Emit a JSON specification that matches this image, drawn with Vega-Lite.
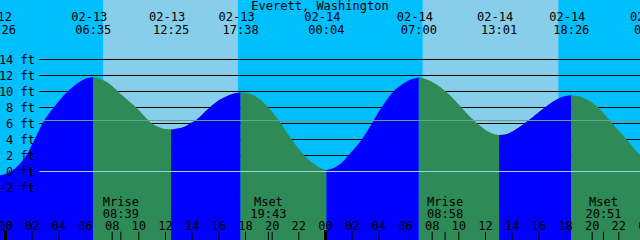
{
 "$schema": "https://vega.github.io/schema/vega-lite/v6.json",
 "width": 640, "height": 240,
 "autosize": {"type": "none"},
 "padding": 0,
 "background": "#00BFFF",
 "config": {"view": {"stroke": null}, "axis": {"disable": true}, "legend": {"disable": true},
   "text": {"font": "DejaVu Sans Mono", "fontSize": 12, "color": "#000000", "baseline": "middle"}},
 "datasets": {
  "day": [{"start": 7.317, "end": 17.433}, {"start": 31.283, "end": 41.467}],
  "tide": [
   {"t": -0.5625, "ft": -0.5, "seg": 0, "phase": "rise"},
   {"t": 0.0, "ft": -0.3, "seg": 0, "phase": "rise"},
   {"t": 0.49, "ft": 0.1, "seg": 0, "phase": "rise"},
   {"t": 1.09, "ft": 1.0, "seg": 0, "phase": "rise"},
   {"t": 1.59, "ft": 2.1, "seg": 0, "phase": "rise"},
   {"t": 2.15, "ft": 3.9, "seg": 0, "phase": "rise"},
   {"t": 2.835, "ft": 6.2, "seg": 0, "phase": "rise"},
   {"t": 3.615, "ft": 8.0, "seg": 0, "phase": "rise"},
   {"t": 4.65, "ft": 10.0, "seg": 0, "phase": "rise"},
   {"t": 5.46, "ft": 11.1, "seg": 0, "phase": "rise"},
   {"t": 6.0, "ft": 11.6, "seg": 0, "phase": "rise"},
   {"t": 6.583, "ft": 11.8, "seg": 0, "phase": "rise"},
   {"t": 6.583, "ft": 11.8, "seg": 1, "phase": "fall"},
   {"t": 7.34, "ft": 11.4, "seg": 1, "phase": "fall"},
   {"t": 7.84, "ft": 10.9, "seg": 1, "phase": "fall"},
   {"t": 8.44, "ft": 10.0, "seg": 1, "phase": "fall"},
   {"t": 9.11, "ft": 9.0, "seg": 1, "phase": "fall"},
   {"t": 9.86, "ft": 7.9, "seg": 1, "phase": "fall"},
   {"t": 10.59, "ft": 6.6, "seg": 1, "phase": "fall"},
   {"t": 10.97, "ft": 6.0, "seg": 1, "phase": "fall"},
   {"t": 11.59, "ft": 5.5, "seg": 1, "phase": "fall"},
   {"t": 12.0, "ft": 5.3, "seg": 1, "phase": "fall"},
   {"t": 12.417, "ft": 5.25, "seg": 1, "phase": "fall"},
   {"t": 12.417, "ft": 5.25, "seg": 2, "phase": "rise"},
   {"t": 13.24, "ft": 5.5, "seg": 2, "phase": "rise"},
   {"t": 13.84, "ft": 6.0, "seg": 2, "phase": "rise"},
   {"t": 14.34, "ft": 6.5, "seg": 2, "phase": "rise"},
   {"t": 15.3, "ft": 8.0, "seg": 2, "phase": "rise"},
   {"t": 16.09, "ft": 9.0, "seg": 2, "phase": "rise"},
   {"t": 17.0, "ft": 9.7, "seg": 2, "phase": "rise"},
   {"t": 17.633, "ft": 9.87, "seg": 2, "phase": "rise"},
   {"t": 17.633, "ft": 9.87, "seg": 3, "phase": "fall"},
   {"t": 18.3, "ft": 9.75, "seg": 3, "phase": "fall"},
   {"t": 19.09, "ft": 9.0, "seg": 3, "phase": "fall"},
   {"t": 19.71, "ft": 8.0, "seg": 3, "phase": "fall"},
   {"t": 20.46, "ft": 6.5, "seg": 3, "phase": "fall"},
   {"t": 20.62, "ft": 6.1, "seg": 3, "phase": "fall"},
   {"t": 21.47, "ft": 4.0, "seg": 3, "phase": "fall"},
   {"t": 22.41, "ft": 2.0, "seg": 3, "phase": "fall"},
   {"t": 23.09, "ft": 1.0, "seg": 3, "phase": "fall"},
   {"t": 23.6, "ft": 0.45, "seg": 3, "phase": "fall"},
   {"t": 24.067, "ft": 0.2, "seg": 3, "phase": "fall"},
   {"t": 24.067, "ft": 0.2, "seg": 4, "phase": "rise"},
   {"t": 24.6, "ft": 0.45, "seg": 4, "phase": "rise"},
   {"t": 25.22, "ft": 1.1, "seg": 4, "phase": "rise"},
   {"t": 25.71, "ft": 2.0, "seg": 4, "phase": "rise"},
   {"t": 26.72, "ft": 4.0, "seg": 4, "phase": "rise"},
   {"t": 27.54, "ft": 6.2, "seg": 4, "phase": "rise"},
   {"t": 28.16, "ft": 7.9, "seg": 4, "phase": "rise"},
   {"t": 29.09, "ft": 10.0, "seg": 4, "phase": "rise"},
   {"t": 29.84, "ft": 11.0, "seg": 4, "phase": "rise"},
   {"t": 30.4, "ft": 11.5, "seg": 4, "phase": "rise"},
   {"t": 31.0, "ft": 11.75, "seg": 4, "phase": "rise"},
   {"t": 31.0, "ft": 11.75, "seg": 5, "phase": "fall"},
   {"t": 31.46, "ft": 11.6, "seg": 5, "phase": "fall"},
   {"t": 32.21, "ft": 11.0, "seg": 5, "phase": "fall"},
   {"t": 33.02, "ft": 10.0, "seg": 5, "phase": "fall"},
   {"t": 33.59, "ft": 9.1, "seg": 5, "phase": "fall"},
   {"t": 34.09, "ft": 8.2, "seg": 5, "phase": "fall"},
   {"t": 35.0, "ft": 6.6, "seg": 5, "phase": "fall"},
   {"t": 35.5, "ft": 5.85, "seg": 5, "phase": "fall"},
   {"t": 36.1, "ft": 5.1, "seg": 5, "phase": "fall"},
   {"t": 36.6, "ft": 4.7, "seg": 5, "phase": "fall"},
   {"t": 37.017, "ft": 4.55, "seg": 5, "phase": "fall"},
   {"t": 37.017, "ft": 4.55, "seg": 6, "phase": "rise"},
   {"t": 37.5, "ft": 4.65, "seg": 6, "phase": "rise"},
   {"t": 38.01, "ft": 5.0, "seg": 6, "phase": "rise"},
   {"t": 38.9, "ft": 6.0, "seg": 6, "phase": "rise"},
   {"t": 39.3, "ft": 6.5, "seg": 6, "phase": "rise"},
   {"t": 40.59, "ft": 8.2, "seg": 6, "phase": "rise"},
   {"t": 41.34, "ft": 9.0, "seg": 6, "phase": "rise"},
   {"t": 41.9, "ft": 9.4, "seg": 6, "phase": "rise"},
   {"t": 42.433, "ft": 9.54, "seg": 6, "phase": "rise"},
   {"t": 42.433, "ft": 9.54, "seg": 7, "phase": "fall"},
   {"t": 43.0, "ft": 9.4, "seg": 7, "phase": "fall"},
   {"t": 43.71, "ft": 8.9, "seg": 7, "phase": "fall"},
   {"t": 44.46, "ft": 8.0, "seg": 7, "phase": "fall"},
   {"t": 45.21, "ft": 6.6, "seg": 7, "phase": "fall"},
   {"t": 45.46, "ft": 6.1, "seg": 7, "phase": "fall"},
   {"t": 46.59, "ft": 4.0, "seg": 7, "phase": "fall"},
   {"t": 47.6, "ft": 2.0, "seg": 7, "phase": "fall"},
   {"t": 48.3, "ft": 0.9, "seg": 7, "phase": "fall"}
  ],
  "levels": [
   {"ft": 14, "label": "14 ft"}, {"ft": 12, "label": "12 ft"}, {"ft": 10, "label": "10 ft"},
   {"ft": 8, "label": "8 ft"}, {"ft": 6, "label": "6 ft"}, {"ft": 4, "label": "4 ft"},
   {"ft": 2, "label": "2 ft"}, {"ft": 0, "label": "0 ft"}, {"ft": -2, "label": "-2 ft"}
  ],
  "refs": [{"ft": 6.375, "name": "mean"}, {"ft": 0, "name": "datum"}],
  "events": [
   {"t": -0.5625, "date": "02-12", "time": "23:26"},
   {"t": 6.583, "date": "02-13", "time": "06:35"},
   {"t": 12.417, "date": "02-13", "time": "12:25"},
   {"t": 17.633, "date": "02-13", "time": "17:38"},
   {"t": 24.067, "date": "02-14", "time": "00:04"},
   {"t": 31.0, "date": "02-14", "time": "07:00"},
   {"t": 37.017, "date": "02-14", "time": "13:01"},
   {"t": 42.433, "date": "02-14", "time": "18:26"},
   {"t": 48.5, "date": "02-15", "time": "00:30"}
  ],
  "moon": [
   {"t": 8.65, "name": "Mrise", "time": "08:39"},
   {"t": 19.717, "name": "Mset", "time": "19:43"},
   {"t": 32.967, "name": "Mrise", "time": "08:58"},
   {"t": 44.85, "name": "Mset", "time": "20:51"}
  ],
  "hours": [
   {"t": 0, "label": "00", "midnight": true}, {"t": 2, "label": "02", "midnight": false},
   {"t": 4, "label": "04", "midnight": false}, {"t": 6, "label": "06", "midnight": false},
   {"t": 8, "label": "08", "midnight": false}, {"t": 10, "label": "10", "midnight": false},
   {"t": 12, "label": "12", "midnight": false}, {"t": 14, "label": "14", "midnight": false},
   {"t": 16, "label": "16", "midnight": false}, {"t": 18, "label": "18", "midnight": false},
   {"t": 20, "label": "20", "midnight": false}, {"t": 22, "label": "22", "midnight": false},
   {"t": 24, "label": "00", "midnight": true}, {"t": 26, "label": "02", "midnight": false},
   {"t": 28, "label": "04", "midnight": false}, {"t": 30, "label": "06", "midnight": false},
   {"t": 32, "label": "08", "midnight": false}, {"t": 34, "label": "10", "midnight": false},
   {"t": 36, "label": "12", "midnight": false}, {"t": 38, "label": "14", "midnight": false},
   {"t": 40, "label": "16", "midnight": false}, {"t": 42, "label": "18", "midnight": false},
   {"t": 44, "label": "20", "midnight": false}, {"t": 46, "label": "22", "midnight": false},
   {"t": 48, "label": "00", "midnight": true}
  ],
  "title": [{"text": "Everett, Washington"}]
 },
 "layer": [
  {"data": {"name": "day"}, "mark": {"type": "rect", "color": "#87CEEB"},
   "encoding": {"x": {"field": "start", "type": "quantitative", "scale": {"domain": [-0.4125, 47.5875], "nice": false, "zero": false}},
     "x2": {"field": "end"}}},
  {"data": {"name": "levels"}, "transform": [{"filter": "datum.ft >= 2"}],
   "mark": {"type": "rule", "color": "#000000", "strokeWidth": 1},
   "encoding": {"y": {"field": "ft", "type": "quantitative", "scale": {"domain": [-8.5625, 21.4375], "nice": false, "zero": false}},
     "x": {"datum": 2.535, "type": "quantitative"}, "x2": {"datum": 48}}},
  {"data": {"name": "tide"}, "mark": {"type": "area", "interpolate": "catmull-rom", "clip": true},
   "encoding": {"x": {"field": "t", "type": "quantitative"},
     "y": {"field": "ft", "type": "quantitative", "stack": null},
     "y2": {"datum": -8.5625},
     "color": {"field": "phase", "type": "nominal", "scale": {"domain": ["rise", "fall"], "range": ["#0000FF", "#2E8B57"]}, "legend": null},
     "detail": {"field": "seg", "type": "nominal"}}},
  {"data": {"name": "refs"}, "mark": {"type": "rule", "strokeWidth": 1},
   "encoding": {"y": {"field": "ft", "type": "quantitative"},
     "x": {"datum": 2.535, "type": "quantitative"}, "x2": {"datum": 48},
     "stroke": {"field": "name", "type": "nominal", "scale": {"domain": ["mean", "datum"], "range": ["#62A290", "#A0D6E0"]}, "legend": null}}},
  {"data": {"name": "levels"}, "mark": {"type": "text", "align": "right"},
   "encoding": {"y": {"field": "ft", "type": "quantitative"}, "x": {"datum": 2.2125, "type": "quantitative"}, "text": {"field": "label"}}},
  {"data": {"name": "events"}, "mark": {"type": "text", "align": "center", "dx": -4},
   "encoding": {"x": {"field": "t", "type": "quantitative"}, "y": {"datum": 19.31, "type": "quantitative"}, "text": {"field": "date"}}},
  {"data": {"name": "events"}, "mark": {"type": "text", "align": "center"},
   "encoding": {"x": {"field": "t", "type": "quantitative"}, "y": {"datum": 17.69, "type": "quantitative"}, "text": {"field": "time"}}},
  {"data": {"name": "title"}, "mark": {"type": "text", "align": "center"},
   "encoding": {"x": {"datum": 23.5875, "type": "quantitative"}, "y": {"datum": 20.69, "type": "quantitative"}, "text": {"field": "text"}}},
  {"data": {"name": "moon"}, "mark": {"type": "text", "align": "center"},
   "encoding": {"x": {"field": "t", "type": "quantitative"}, "y": {"datum": -3.81, "type": "quantitative"}, "text": {"field": "name"}}},
  {"data": {"name": "moon"}, "mark": {"type": "text", "align": "center"},
   "encoding": {"x": {"field": "t", "type": "quantitative"}, "y": {"datum": -5.25, "type": "quantitative"}, "text": {"field": "time"}}},
  {"data": {"name": "hours"}, "mark": {"type": "text", "align": "center"},
   "encoding": {"x": {"field": "t", "type": "quantitative"}, "y": {"datum": -6.75, "type": "quantitative"}, "text": {"field": "label"}}},
  {"data": {"name": "hours"}, "transform": [{"filter": "!datum.midnight"}],
   "mark": {"type": "rule", "color": "#000000", "strokeWidth": 1},
   "encoding": {"x": {"field": "t", "type": "quantitative"}, "y": {"datum": -7.53, "type": "quantitative"}, "y2": {"datum": -8.5625}}},
  {"data": {"name": "hours"}, "transform": [{"filter": "datum.midnight"}],
   "mark": {"type": "rule", "color": "#000000", "strokeWidth": 3},
   "encoding": {"x": {"field": "t", "type": "quantitative"}, "y": {"datum": -7.31, "type": "quantitative"}, "y2": {"datum": -8.5625}}},
  {"data": {"name": "moon"},
   "mark": {"type": "rule", "color": "#000000", "strokeWidth": 1},
   "encoding": {"x": {"field": "t", "type": "quantitative"}, "y": {"datum": -7.53, "type": "quantitative"}, "y2": {"datum": -8.5625}}}
 ]
}
